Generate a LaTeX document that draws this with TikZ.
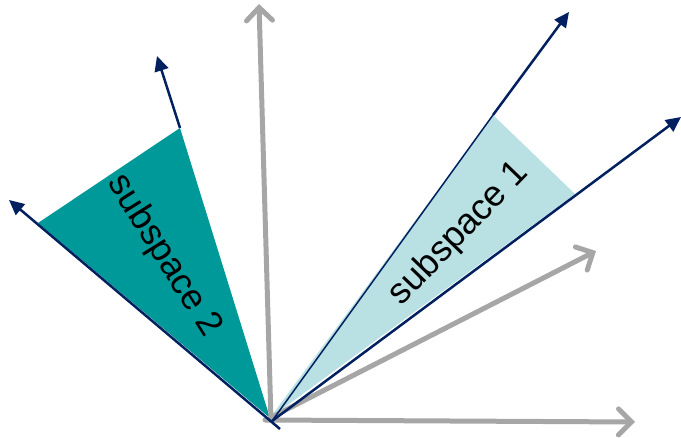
\documentclass[tikz,border=0pt]{standalone}
\usepackage{fontspec}
\setmainfont{Liberation Sans}
\usetikzlibrary{arrows.meta}
\definecolor{tealfill}{HTML}{009999}
\definecolor{lightfill}{HTML}{B9E0E3}
\definecolor{navy}{HTML}{002060}
\definecolor{axisgray}{HTML}{A6A6A6}
\tikzset{
  axis/.style={draw=axisgray, line width=5pt, line cap=round,
    -{Straight Barb[length=13pt,width=26pt,line width=5pt,line cap=round]}},
  basis/.style={draw=navy, line width=2.5pt,
    -{Triangle[length=15pt,width=14pt]}},
  edgeline/.style={draw=navy, line width=1.5pt},
  label/.style={font=\fontsize{36}{40}\selectfont, text=black, inner sep=0pt}
}
\begin{document}
\begin{tikzpicture}[x=1pt,y=-1pt]
\useasboundingbox (0,0) rectangle (681,438);
% coordinates
\coordinate (O) at (270,418);
\coordinate (A1) at (493,115);
\coordinate (A2) at (575,194);
\coordinate (B1) at (180,128);
\coordinate (B2) at (38,223);
% subspace fills
\fill[lightfill] (O) -- (A1) -- (A2) -- cycle;
\fill[tealfill] (O) -- (B1) -- (B2) -- cycle;
% gray axes
\coordinate (G0) at (271,420);
\coordinate (GV) at (259,4);
\coordinate (GH0) at (265,420);
\coordinate (GH) at (635,422);
\coordinate (GD) at (596,251);
\draw[axis] (G0) -- (GV);
\draw[axis] (GH0) -- (GH);
\draw[axis] (O) -- (GD);
% navy basis vectors
\coordinate (S1a) at (569,12);
\coordinate (S1b) at (681,117);
\coordinate (S2a) at (157,56);
\coordinate (S2b) at (9,200);
\coordinate (E1) at (272,421);
\coordinate (E2) at (280,429);
\draw[edgeline] (E1) -- (A1);
\draw[basis] (A1) -- (S1a);
\draw[basis] (E1) -- (S1b);
\draw[basis] (B1) -- (S2a);
\draw[basis] (E2) -- (S2b);
% labels
\node[label, rotate=-58] (L2) at (164,256) {subspace 2};
\node[label, rotate=46] (L1) at (459,234) {subspace 1};
\end{tikzpicture}
\end{document}
